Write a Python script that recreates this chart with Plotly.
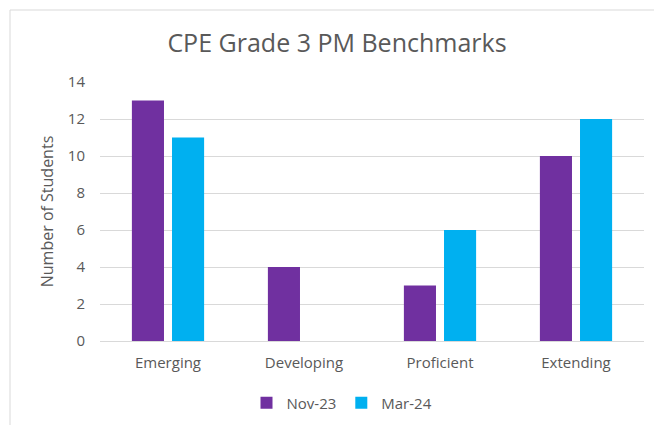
import plotly.graph_objects as go

categories = ["Emerging", "Developing", "Proficient", "Extending"]
nov23 = [13, 4, 3, 10]
mar24 = [11, 0, 6, 12]
y_ticks = [0, 2, 4, 6, 8, 10, 12, 14]

FONT = "'Open Sans', sans-serif"
GRAY = "#595959"

fig = go.Figure()
fig.add_trace(go.Bar(name="Nov-23", x=categories, y=nov23, marker_color="#7030A0",
                     marker_line_width=0))
fig.add_trace(go.Bar(name="Mar-24", x=categories, y=mar24, marker_color="#00B0F0",
                     marker_line_width=0))

OFF = 8  # page body margin
W, H = 662 - OFF, 425 - OFF
L, T = 100 - OFF, 82 - OFF
R = W - (644 - OFF)
B = H - (341 - OFF)
pw, ph = W - L - R, H - T - B

def px_x(p):
    return (p - OFF - L) / pw

def px_y(p):
    return 1 - (p - OFF - T) / ph

fig.update_layout(
    width=W, height=H,
    margin=dict(l=L, r=R, t=T, b=B, autoexpand=False),
    paper_bgcolor="white", plot_bgcolor="white",
    barmode="group", bargap=0.41, bargroupgap=0.2,
    font=dict(family=FONT, color=GRAY, size=15),
    title=dict(text="CPE Grade 3 PM Benchmarks", xref="container", x=(337 - OFF) / W,
               xanchor="center", yref="container", y=1 - (43 - OFF) / H, yanchor="middle",
               font=dict(size=25, color=GRAY, family=FONT)),
    xaxis=dict(showgrid=False, showline=True, linecolor="#d9d9d9", linewidth=1,
               ticks="", tickfont=dict(size=15, color=GRAY), ticklabelstandoff=8),
    yaxis=dict(range=[0, 14], tickvals=y_ticks, showgrid=True, gridcolor="#d9d9d9",
               gridwidth=1, zeroline=False, showline=False, ticks="",
               tickfont=dict(size=15, color=GRAY), ticklabelstandoff=14,
               title=dict(text="Number of Students", font=dict(size=16, color=GRAY), standoff=10)),
    legend=dict(orientation="h", xref="container", x=(342 - OFF) / W, xanchor="center",
                yref="container", y=1 - (403 - OFF) / H, yanchor="middle",
                font=dict(size=15, color=GRAY), itemwidth=30, traceorder="normal"),
    shapes=[
        dict(type="rect", xref="paper", yref="paper",
             x0=px_x(10), x1=px_x(700), y0=px_y(460), y1=px_y(10),
             line=dict(color="#d9d9d9", width=1), fillcolor="rgba(0,0,0,0)", layer="below"),
    ],
)

fig.write_html("out.html")
